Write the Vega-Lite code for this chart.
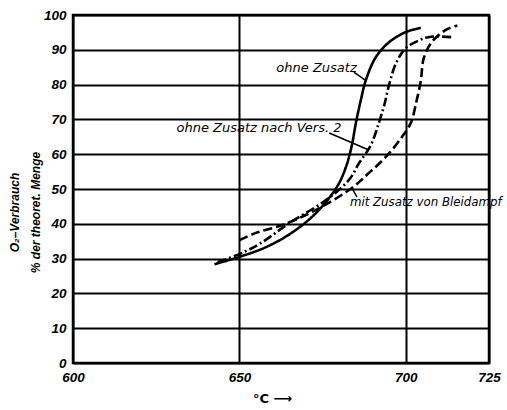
{
  "$schema": "https://vega.github.io/schema/vega-lite/v6.json",
  "width": 416,
  "height": 348,
  "autosize": {"type": "none"},
  "padding": {"left": 73, "top": 15, "right": 18, "bottom": 47},
  "background": "white",
  "config": {
    "view": {"stroke": "black", "strokeWidth": 2.5},
    "font": "Liberation Sans"
  },
  "datasets": {
    "curves": [
      {"series": "ohne Zusatz", "temp": 642.5, "o2": 28.4},
      {"series": "ohne Zusatz", "temp": 650, "o2": 30.5},
      {"series": "ohne Zusatz", "temp": 658, "o2": 33.3},
      {"series": "ohne Zusatz", "temp": 666, "o2": 37.6},
      {"series": "ohne Zusatz", "temp": 673, "o2": 43.1},
      {"series": "ohne Zusatz", "temp": 679.3, "o2": 50.6},
      {"series": "ohne Zusatz", "temp": 682, "o2": 56.3},
      {"series": "ohne Zusatz", "temp": 683.8, "o2": 62.6},
      {"series": "ohne Zusatz", "temp": 685, "o2": 69},
      {"series": "ohne Zusatz", "temp": 686.5, "o2": 75.6},
      {"series": "ohne Zusatz", "temp": 688, "o2": 81.3},
      {"series": "ohne Zusatz", "temp": 691, "o2": 87.9},
      {"series": "ohne Zusatz", "temp": 695, "o2": 92.2},
      {"series": "ohne Zusatz", "temp": 700, "o2": 95.1},
      {"series": "ohne Zusatz", "temp": 704.5, "o2": 96.3},
      {"series": "ohne Zusatz nach Vers.2", "temp": 643.5, "o2": 29},
      {"series": "ohne Zusatz nach Vers.2", "temp": 650, "o2": 31.3},
      {"series": "ohne Zusatz nach Vers.2", "temp": 656, "o2": 34.2},
      {"series": "ohne Zusatz nach Vers.2", "temp": 665, "o2": 40.2},
      {"series": "ohne Zusatz nach Vers.2", "temp": 676, "o2": 46.8},
      {"series": "ohne Zusatz nach Vers.2", "temp": 682.9, "o2": 52.6},
      {"series": "ohne Zusatz nach Vers.2", "temp": 686, "o2": 57.5},
      {"series": "ohne Zusatz nach Vers.2", "temp": 689.5, "o2": 62.6},
      {"series": "ohne Zusatz nach Vers.2", "temp": 691.9, "o2": 69},
      {"series": "ohne Zusatz nach Vers.2", "temp": 693.5, "o2": 74},
      {"series": "ohne Zusatz nach Vers.2", "temp": 695, "o2": 80},
      {"series": "ohne Zusatz nach Vers.2", "temp": 697, "o2": 86},
      {"series": "ohne Zusatz nach Vers.2", "temp": 700, "o2": 90.5},
      {"series": "ohne Zusatz nach Vers.2", "temp": 704, "o2": 92.7},
      {"series": "ohne Zusatz nach Vers.2", "temp": 707, "o2": 93.7},
      {"series": "ohne Zusatz nach Vers.2", "temp": 714.4, "o2": 93.6},
      {"series": "mit Zusatz von Bleidampf", "temp": 650, "o2": 35.3},
      {"series": "mit Zusatz von Bleidampf", "temp": 655, "o2": 37.4},
      {"series": "mit Zusatz von Bleidampf", "temp": 663, "o2": 39.7},
      {"series": "mit Zusatz von Bleidampf", "temp": 673, "o2": 44},
      {"series": "mit Zusatz von Bleidampf", "temp": 683.8, "o2": 50.3},
      {"series": "mit Zusatz von Bleidampf", "temp": 688.9, "o2": 54.6},
      {"series": "mit Zusatz von Bleidampf", "temp": 694, "o2": 59.2},
      {"series": "mit Zusatz von Bleidampf", "temp": 698.8, "o2": 64.9},
      {"series": "mit Zusatz von Bleidampf", "temp": 701.5, "o2": 69},
      {"series": "mit Zusatz von Bleidampf", "temp": 703.3, "o2": 75.6},
      {"series": "mit Zusatz von Bleidampf", "temp": 704.5, "o2": 81},
      {"series": "mit Zusatz von Bleidampf", "temp": 705.4, "o2": 87.6},
      {"series": "mit Zusatz von Bleidampf", "temp": 707.8, "o2": 92.2},
      {"series": "mit Zusatz von Bleidampf", "temp": 712, "o2": 95.7},
      {"series": "mit Zusatz von Bleidampf", "temp": 715.5, "o2": 97}
    ],
    "labelsBig": [
      {"text": "ohne Zusatz", "temp": 661.1, "o2": 84.8},
      {"text": "ohne Zusatz nach Vers. 2", "temp": 631.1, "o2": 67.5}
    ],
    "labelsSmall": [
      {"text": "mit Zusatz von Bleidampf", "temp": 683.2, "o2": 46.3}
    ],
    "leaders": [
      {"temp": 684.4, "o2": 83.6, "temp2": 687.8, "o2b": 81.3},
      {"temp": 677.0, "o2": 66.1, "temp2": 688.9, "o2b": 61.2},
      {"temp": 683.8, "o2": 50.3, "temp2": 685.3, "o2b": 47.7}
    ]
  },
  "encoding": {
    "x": {
      "field": "temp", "type": "quantitative",
      "scale": {"domain": [600, 725], "nice": false, "zero": false},
      "axis": {
        "values": [600, 650, 700, 725],
        "grid": true, "gridColor": "black", "gridWidth": 2, "gridOpacity": 1,
        "domain": false, "ticks": false,
        "labelFont": "Liberation Sans", "labelFontStyle": "italic", "labelFontWeight": "bold",
        "labelFontSize": 13.5, "labelColor": "black", "labelPadding": 7, "labelFlush": false,
        "labelOverlap": false,
        "title": "°C ⟶", "titleFont": "DejaVu Sans", "titleFontWeight": "bold", "titleFontSize": 13,
        "titleColor": "black", "titleX": 199, "titleY": 35, "titleAlign": "center", "titleBaseline": "middle"
      }
    },
    "y": {
      "field": "o2", "type": "quantitative",
      "scale": {"domain": [0, 100], "nice": false},
      "axis": {
        "values": [0, 10, 20, 30, 40, 50, 60, 70, 80, 90, 100],
        "grid": true, "gridColor": "black", "gridWidth": 2, "gridOpacity": 1,
        "domain": false, "ticks": false,
        "labelFont": "Liberation Sans", "labelFontStyle": "italic", "labelFontWeight": "bold",
        "labelFontSize": 13.5, "labelColor": "black", "labelPadding": 7, "labelOverlap": false,
        "title": ["O₂–Verbrauch", "% der theoret. Menge"],
        "titleFont": "Liberation Sans", "titleFontStyle": "italic", "titleFontWeight": "bold",
        "titleFontSize": 12, "titleColor": "black", "titleAngle": -90,
        "titleX": -55, "titleY": 197, "titleAlign": "center", "titleBaseline": "alphabetic",
        "titleLineHeight": 21
      }
    }
  },
  "layer": [
    {
      "data": {"name": "curves"},
      "mark": {"type": "line", "interpolate": "catmull-rom", "strokeWidth": 2.6, "color": "black"},
      "encoding": {
        "detail": {"field": "series"},
        "strokeDash": {
          "field": "series", "type": "nominal",
          "scale": {
            "domain": ["ohne Zusatz", "ohne Zusatz nach Vers.2", "mit Zusatz von Bleidampf"],
            "range": [[1, 0], [9, 3, 2, 3], [9, 4]]
          },
          "legend": null
        }
      }
    },
    {
      "data": {"name": "leaders"},
      "mark": {"type": "rule", "color": "black", "strokeWidth": 1.5},
      "encoding": {
        "x2": {"field": "temp2"},
        "y2": {"field": "o2b"}
      }
    },
    {
      "data": {"name": "labelsBig"},
      "mark": {"type": "text", "align": "left", "baseline": "middle", "font": "DejaVu Sans", "fontStyle": "italic", "fontSize": 13, "color": "black"},
      "encoding": {
        "text": {"field": "text"}
      }
    },
    {
      "data": {"name": "labelsSmall"},
      "mark": {"type": "text", "align": "left", "baseline": "middle", "font": "DejaVu Sans", "fontStyle": "italic", "fontSize": 11.8, "color": "black"},
      "encoding": {
        "text": {"field": "text"}
      }
    }
  ]
}
